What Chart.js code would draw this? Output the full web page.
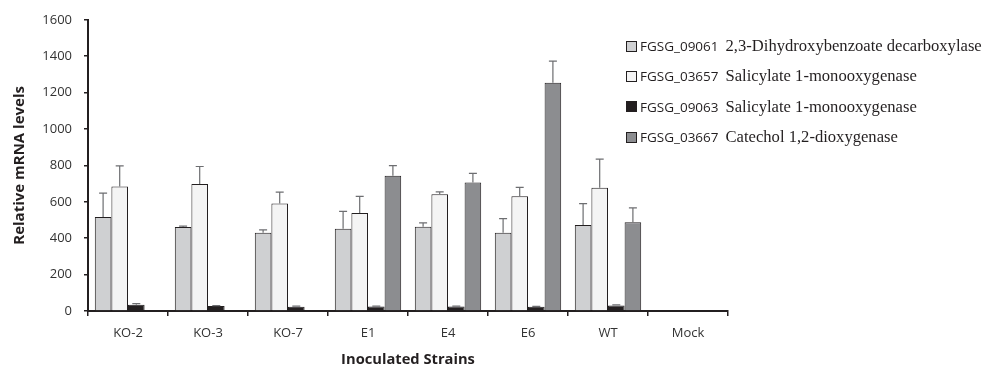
<!DOCTYPE html>
<html>
<head>
<meta charset="utf-8">
<script src="https://cdn.jsdelivr.net/npm/chart.js@4/dist/chart.umd.min.js"></script>
<style>
  body { margin: 0; background: #fff; }
  #wrap { position: relative; width: 994px; height: 367px; }
  #legend { position: absolute; left: 626px; top: 31px; }
  .item { height: 30.3px; display: flex; align-items: center; white-space: nowrap; }
  .box { width: 9px; height: 9px; border: 1px solid #231f20; margin-right: 3px; }
  .code { font-family: "Open Sans", sans-serif; font-size: 13.5px; color: #231f20; margin-right: 7px; }
  .name { font-family: "Liberation Serif", serif; font-size: 16.6px; color: #231f20; }
</style>
</head>
<body>
<div id="wrap">
  <canvas id="myChart" width="994" height="367"></canvas>
  <div id="legend"></div>
</div>
<script>
const strains = ["KO-2", "KO-3", "KO-7", "E1", "E4", "E6", "WT", "Mock"];
const geneCodes = ["FGSG_09061", "FGSG_03657", "FGSG_09063", "FGSG_03667"];
const geneNames = ["2,3-Dihydroxybenzoate decarboxylase", "Salicylate 1-monooxygenase", "Salicylate 1-monooxygenase", "Catechol 1,2-dioxygenase"];
const colors = ["#cfd0d2", "#f4f4f4", "#231f20", "#8c8d90"];

const g09061 = [517, 461, 430, 452, 463, 430, 473, 0];
const g03657 = [684, 698, 590, 538, 641, 630, 677, 0];
const g09063 = [35, 27, 24, 25, 25, 23, 30, 0];
const g03667 = [0, 0, 0, 743, 706, 1254, 488, 0];

// upper error bar lengths
const e09061 = [131, 5, 16, 95, 21, 78, 117, 0];
const e03657 = [113, 96, 63, 92, 14, 49, 158, 0];
const e09063 = [5, 3, 3, 2, 2, 2, 4, 0];
const e03667 = [0, 0, 0, 56, 50, 119, 79, 0];

const yTicks = [0, 200, 400, 600, 800, 1000, 1200, 1400, 1600];

const values = [g09061, g03657, g09063, g03667];
const errors = [e09061, e03657, e09063, e03667];

const errorBars = {
    id: "errorBars",
    afterDatasetsDraw(chart) {
        const ctx = chart.ctx;
        const y = chart.scales.y;
        ctx.save();
        ctx.strokeStyle = "#6d6e71";
        ctx.lineWidth = 1.2;
        chart.data.datasets.forEach((ds, i) => {
            const meta = chart.getDatasetMeta(i);
            meta.data.forEach((bar, j) => {
                const v = ds.data[j], e = errors[i][j];
                if (!v || !e) return;
                const top = y.getPixelForValue(v + e);
                const base = y.getPixelForValue(v);
                ctx.beginPath();
                ctx.moveTo(bar.x, base);
                ctx.lineTo(bar.x, top);
                ctx.moveTo(bar.x - 4, top);
                ctx.lineTo(bar.x + 4, top);
                ctx.stroke();
            });
        });
        ctx.restore();
    }
};

const ctx = document.getElementById("myChart");

new Chart(ctx, {
    type: "bar",
    data: {
        labels: strains,
        datasets: values.map((v, i) => ({
            label: geneCodes[i] + " " + geneNames[i],
            data: v,
            backgroundColor: colors[i],
            borderColor: "#231f20",
            borderWidth: 1,
            categoryPercentage: 0.83,
            barPercentage: 1.0,
        })),
    },
    options: {
        responsive: false,
        animation: false,
        layout: { padding: { left: 11, right: 266, top: 14, bottom: -2 } },
        plugins: { legend: { display: false }, tooltip: { enabled: false } },
        scales: {
            x: {
                grid: { drawOnChartArea: false, color: "#231f20", tickLength: 5, lineWidth: 1.5 },
                border: { color: "#231f20", width: 2 },
                ticks: { color: "#333", font: { family: "Open Sans", size: 13 }, padding: 9 },
                title: { display: true, text: "Inoculated Strains", color: "#231f20",
                         font: { family: "Open Sans", size: 14.7, weight: "bold" }, padding: { top: 6, bottom: 0 } },
                afterFit(s) { s.height = 58; },
            },
            y: {
                min: 0, max: 1600,
                afterBuildTicks(s) { s.ticks = yTicks.map(v => ({ value: v })); },
                grid: { drawOnChartArea: false, color: "#231f20", tickLength: 4, lineWidth: 1.5 },
                border: { color: "#231f20", width: 2 },
                ticks: { color: "#333", font: { family: "Open Sans", size: 13 }, padding: 12, callback: v => String(v) },
                title: { display: true, text: "Relative mRNA levels", color: "#231f20",
                         font: { family: "Open Sans", size: 15, weight: "bold" }, padding: { top: 0, bottom: 4 } },
                afterFit(s) { s.width = 77; },
            },
        },
    },
    plugins: [errorBars],
});

const legend = document.getElementById("legend");
geneCodes.forEach((code, i) => {
    const row = document.createElement("div");
    row.className = "item";
    row.innerHTML = '<span class="box" style="background:' + colors[i] + '"></span>' +
        '<span class="code">' + code + '</span><span class="name">' + geneNames[i] + '</span>';
    legend.appendChild(row);
});
</script>
</body>
</html>
